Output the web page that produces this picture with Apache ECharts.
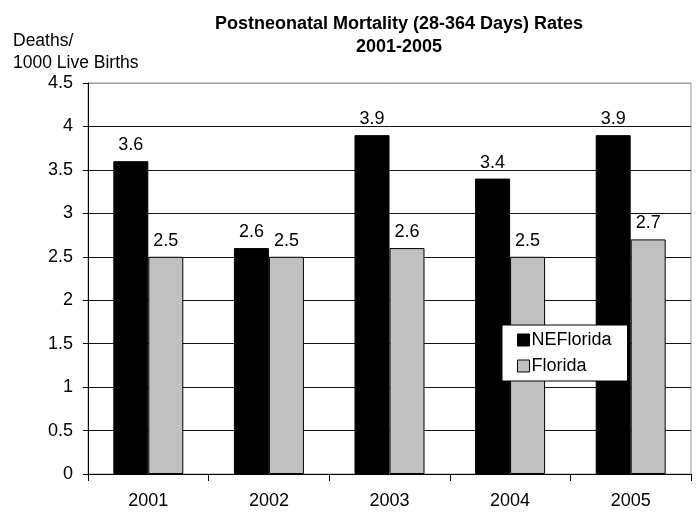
<!DOCTYPE html>
<html>
<head>
<meta charset="utf-8">
<script src="https://cdn.jsdelivr.net/npm/echarts@6/dist/echarts.min.js"></script>
<style>
  html, body { margin: 0; padding: 0; background: #fff; }
  #chart { width: 697px; height: 512px; }
</style>
</head>
<body>
<div id="chart"></div>
<script>
// data
var years = ['2001', '2002', '2003', '2004', '2005'];
var neFlorida = [3.6, 2.6, 3.9, 3.4, 3.9];
var florida = [2.5, 2.5, 2.6, 2.5, 2.7];
var yTicks = [0, 0.5, 1, 1.5, 2, 2.5, 3, 3.5, 4, 4.5];

var font = 'Liberation Sans, Arial, sans-serif';
var chart = echarts.init(document.getElementById('chart'));

// gridlines black, top one (4.5) gray like the plot frame
var gridColors = yTicks.map(function (v, i) { return i === yTicks.length - 1 ? '#999' : '#111'; });

var option = {
  animation: false,
  textStyle: { fontFamily: font },
  title: {
    text: 'Postneonatal Mortality (28-364 Days) Rates\n2001-2005',
    left: 394,
    textAlign: 'center',
    top: 8,
    textStyle: { fontSize: 18, fontWeight: 'bold', color: '#000', lineHeight: 23, fontFamily: font }
  },
  graphic: [{
    type: 'text',
    left: 13,
    top: 30,
    style: { text: 'Deaths/\n1000 Live Births', fontSize: 17.5, lineHeight: 22, fill: '#000', fontFamily: font }
  }],
  legend: {
    left: 502,
    top: 325,
    orient: 'vertical',
    icon: 'rect',
    itemWidth: 12,
    itemHeight: 12,
    itemGap: 8,
    padding: [6, 16, 6, 15],
    borderColor: '#000',
    borderWidth: 1,
    backgroundColor: '#fff',
    textStyle: { fontSize: 18, color: '#000', fontFamily: font, padding: [0, 0, 0, -3] },
    data: [
      { name: 'NEFlorida', itemStyle: { color: '#000', borderColor: '#000', borderWidth: 1 } },
      { name: 'Florida', itemStyle: { color: '#c0c0c0', borderColor: '#000', borderWidth: 1 } }
    ]
  },
  grid: {
    left: 88, right: 6, top: 83, bottom: 38,
    show: true, borderColor: '#999', borderWidth: 1, backgroundColor: 'transparent'
  },
  xAxis: {
    type: 'category',
    data: years,
    axisLine: { lineStyle: { color: '#000', width: 1 } },
    axisTick: { show: true, length: 7, inside: false, lineStyle: { color: '#000' } },
    axisLabel: { fontSize: 18, color: '#000', margin: 18, fontFamily: font }
  },
  yAxis: {
    type: 'value',
    min: yTicks[0],
    max: yTicks[yTicks.length - 1],
    interval: 0.5,
    axisLine: { show: true, lineStyle: { color: '#000', width: 1 } },
    axisTick: { show: true, length: 5, lineStyle: { color: '#000' } },
    axisLabel: { fontSize: 18, color: '#000', margin: 15, fontFamily: font },
    splitLine: { show: true, lineStyle: { color: gridColors, width: 1 } }
  },
  series: [
    {
      name: 'NEFlorida',
      type: 'bar',
      data: neFlorida,
      barWidth: 35,
      barGap: '0%',
      itemStyle: { color: '#000', borderColor: '#000', borderWidth: 1 },
      label: { show: true, position: 'top', distance: 7, fontSize: 18, color: '#000', fontFamily: font }
    },
    {
      name: 'Florida',
      type: 'bar',
      data: florida,
      barWidth: 35,
      itemStyle: { color: '#c0c0c0', borderColor: '#000', borderWidth: 1 },
      label: { show: true, position: 'top', distance: 7, fontSize: 18, color: '#000', fontFamily: font }
    }
  ]
};

chart.setOption(option);
</script>
</body>
</html>
